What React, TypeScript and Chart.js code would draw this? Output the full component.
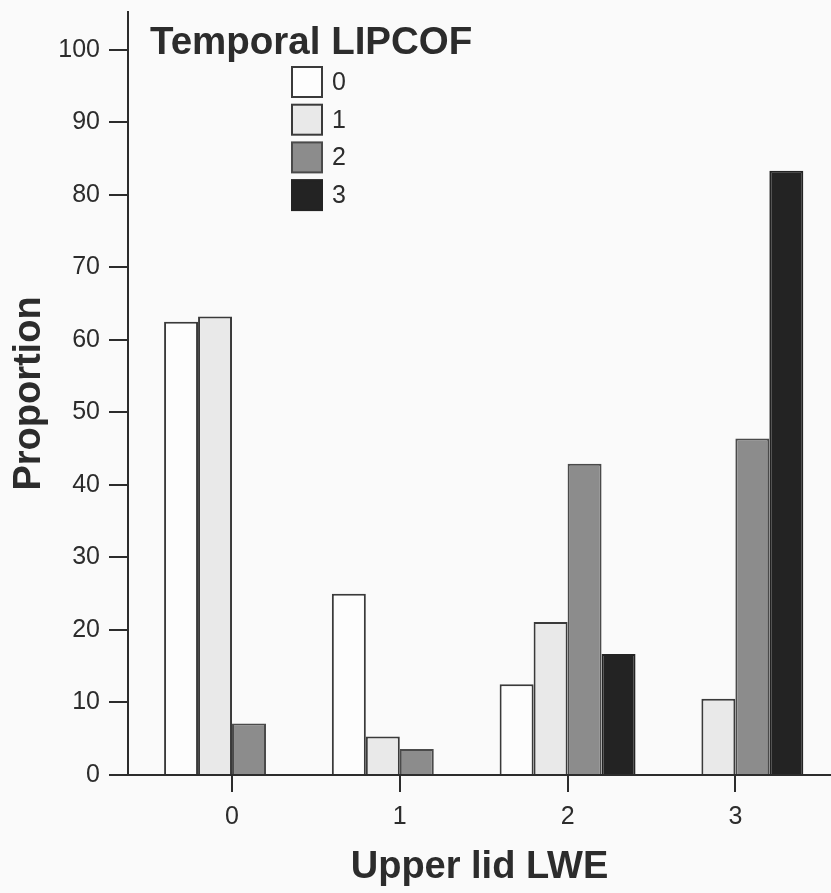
import React, { useEffect, useRef } from "react";
import { Chart, registerables } from "chart.js";

Chart.register(...registerables);

// ---- data ----
const categories = ["0", "1", "2", "3"];
const seriesNames = ["0", "1", "2", "3"];
const lipcof0 = [62.5, 25.0, 12.5, 0];
const lipcof1 = [63.2, 5.3, 21.1, 10.5];
const lipcof2 = [7.1, 3.6, 42.9, 46.4];
const lipcof3 = [0, 0, 16.7, 83.3];
const yTickValues = [0, 10, 20, 30, 40, 50, 60, 70, 80, 90, 100];
const legendTitle = "Temporal LIPCOF";
const xTitle = "Upper lid LWE";
const yTitle = "Proportion";

// ---- styles ----
const fills = ["#fdfdfd", "#e9e9e9", "#8c8c8c", "#232323"];
const borders = ["#3a3a3a", "#3a3a3a", "#4a4a4a", "#232323"];
const FONT = '"Liberation Sans", Arial, Helvetica, sans-serif';
const INK = "#2c2c2c";

const bgPlugin = {
  id: "bg",
  beforeDraw(chart: any) {
    const { ctx, width, height } = chart;
    ctx.save();
    ctx.fillStyle = "#fafafa";
    ctx.fillRect(0, 0, width, height);
    ctx.restore();
  },
};

const legendPlugin = {
  id: "insetLegend",
  afterDraw(chart: any) {
    const { ctx, chartArea } = chart;
    ctx.save();
    ctx.fillStyle = INK;
    ctx.font = `bold 38.5px ${FONT}`;
    ctx.textAlign = "left";
    ctx.textBaseline = "alphabetic";
    ctx.fillText(legendTitle, chartArea.left + 22, 54);
    chart.data.datasets.forEach((ds: any, i: number) => {
      const x = chartArea.left + 164;
      const y = 67 + i * 37.7;
      ctx.fillStyle = ds.backgroundColor;
      ctx.fillRect(x, y, 30, 30);
      ctx.lineWidth = 2;
      ctx.strokeStyle = ds.borderColor;
      ctx.strokeRect(x, y, 30, 30);
      ctx.fillStyle = INK;
      ctx.font = `25px ${FONT}`;
      ctx.textBaseline = "middle";
      ctx.fillText(ds.label, x + 40, y + 16);
    });
    ctx.restore();
  },
};

export default function App() {
  const ref = useRef<HTMLCanvasElement | null>(null);

  useEffect(() => {
    if (!ref.current) return;
    const series = [lipcof0, lipcof1, lipcof2, lipcof3];
    const chart = new Chart(ref.current, {
      type: "bar",
      data: {
        datasets: series.map((vals, s) => ({
          label: seriesNames[s],
          data: vals.map((v, i) => ({ x: i, y: v })),
          backgroundColor: fills[s],
          borderColor: borders[s],
          borderWidth: 2,
          categoryPercentage: 0.81,
          barPercentage: 1.0,
        })),
      },
      options: {
        responsive: false,
        animation: false,
        layout: { padding: { top: 12, right: 0, left: 0, bottom: 0 } },
        plugins: {
          legend: { display: false },
          tooltip: { enabled: false },
        },
        scales: {
          x: {
            type: "linear",
            min: -0.62,
            max: 3.57,
            offset: false,
            afterBuildTicks: (scale: any) => {
              scale.ticks = categories.map((_, i) => ({ value: i }));
            },
            afterFit: (scale: any) => {
              scale.height = 118;
              scale.paddingLeft = 0;
              scale.paddingRight = 0;
            },
            ticks: {
              callback: (v: any) => categories[v] ?? "",
              font: { family: FONT, size: 25 },
              color: INK,
              padding: 10,
              maxRotation: 0,
              autoSkip: false,
            },
            grid: {
              offset: false,
              drawOnChartArea: false,
              drawTicks: true,
              tickLength: 17,
              color: INK,
              lineWidth: 2,
            },
            border: { display: true, color: INK, width: 2 },
            title: {
              display: true,
              text: xTitle,
              font: { family: FONT, size: 38, weight: "bold" },
              color: INK,
              padding: { top: 0, bottom: 3 },
            },
          },
          y: {
            min: 0,
            max: 105.2,
            afterBuildTicks: (scale: any) => {
              scale.ticks = yTickValues.map((v) => ({ value: v }));
            },
            afterFit: (scale: any) => {
              scale.width = 128;
              scale.paddingTop = 0;
              scale.paddingBottom = 0;
            },
            ticks: {
              font: { family: FONT, size: 25 },
              color: INK,
              padding: 9,
            },
            grid: {
              drawOnChartArea: false,
              drawTicks: true,
              tickLength: 19,
              color: INK,
              lineWidth: 2,
            },
            border: { display: true, color: INK, width: 2 },
            title: {
              display: true,
              text: yTitle,
              font: { family: FONT, size: 38, weight: "bold" },
              color: INK,
              padding: { top: 7, bottom: 0 },
            },
          },
        },
      },
      plugins: [bgPlugin, legendPlugin],
    } as any);
    return () => chart.destroy();
  }, []);

  return (
    <div style={{ position: "absolute", left: 0, top: 0, width: 831, height: 893 }}>
      <canvas ref={ref} width={831} height={893} style={{ display: "block" }} />
    </div>
  );
}
